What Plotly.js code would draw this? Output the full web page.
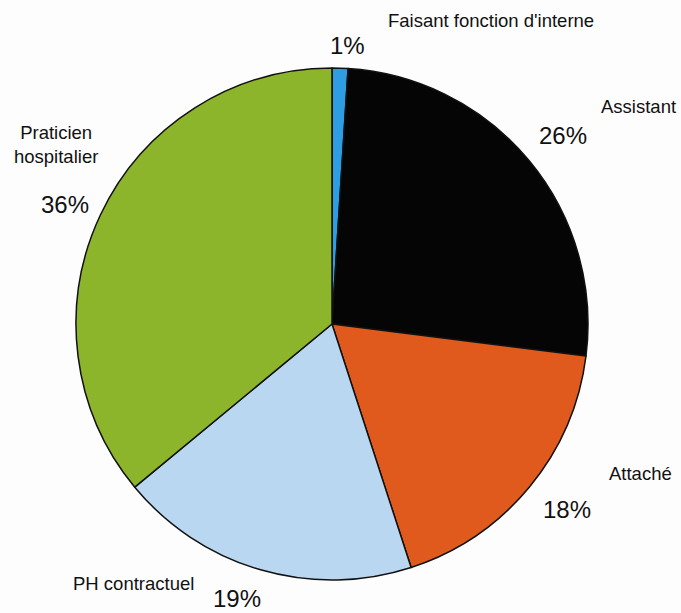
<!DOCTYPE html>
<html>
<head>
<meta charset="utf-8">
<script src="https://cdn.plot.ly/plotly-3.0.1.min.js"></script>
<style>html,body{margin:0;padding:0;background:#fdfdfd;}</style>
</head>
<body>
<div id="chart" style="width:681px;height:613px;"></div>
<script>
const categories = ["Faisant fonction d'interne", "Assistant", "Attaché", "PH contractuel", "Praticien hospitalier"];
const labelTexts = ["Faisant fonction d'interne", "Assistant", "Attaché", "PH contractuel", "Praticien<br>hospitalier"];
const values = [1, 26, 18, 19, 36];
const colors = ["#2e9de2", "#050505", "#e05a1e", "#b9d7f0", "#8db52b"];

// label placement (pixels in 681x613 frame): [labelX, labelY, pctX, pctY]
const labelPos = [
  [491, 20, 347, 45],
  [638, 107, 563, 135],
  [640, 473, 567, 509],
  [133, 583, 237, 598],
  [56, 144, 65, 205]
];
const W = 681, H = 613;
const annotations = [];
categories.forEach((c, i) => {
  const p = labelPos[i];
  annotations.push({x: p[0]/W, y: 1 - p[1]/H, xref: 'paper', yref: 'paper', text: labelTexts[i],
    showarrow: false, xanchor: 'center', yanchor: 'middle', borderpad: 0,
    font: {family: 'Liberation Sans, Arial, sans-serif', size: 18.5, color: '#111'}});
  annotations.push({x: p[2]/W, y: 1 - p[3]/H, xref: 'paper', yref: 'paper', text: values[i] + '%',
    showarrow: false, xanchor: 'center', yanchor: 'middle', borderpad: 0,
    font: {family: 'Liberation Sans, Arial, sans-serif', size: 24, color: '#111'}});
});

const cx = 332, cy = 324, r = 256;
Plotly.newPlot('chart', [{
  type: 'pie',
  labels: categories,
  values: values,
  sort: false,
  direction: 'clockwise',
  rotation: 0,
  textinfo: 'none',
  hoverinfo: 'label+percent',
  marker: {colors: colors, line: {color: '#111', width: 1.5}},
  domain: {x: [(cx - r)/W, (cx + r)/W], y: [1 - (cy + r)/H, 1 - (cy - r)/H]}
}], {
  width: W, height: H,
  margin: {l: 0, r: 0, t: 0, b: 0},
  showlegend: false,
  paper_bgcolor: '#fdfdfd',
  annotations: annotations
}, {staticPlot: true});
</script>
</body>
</html>
